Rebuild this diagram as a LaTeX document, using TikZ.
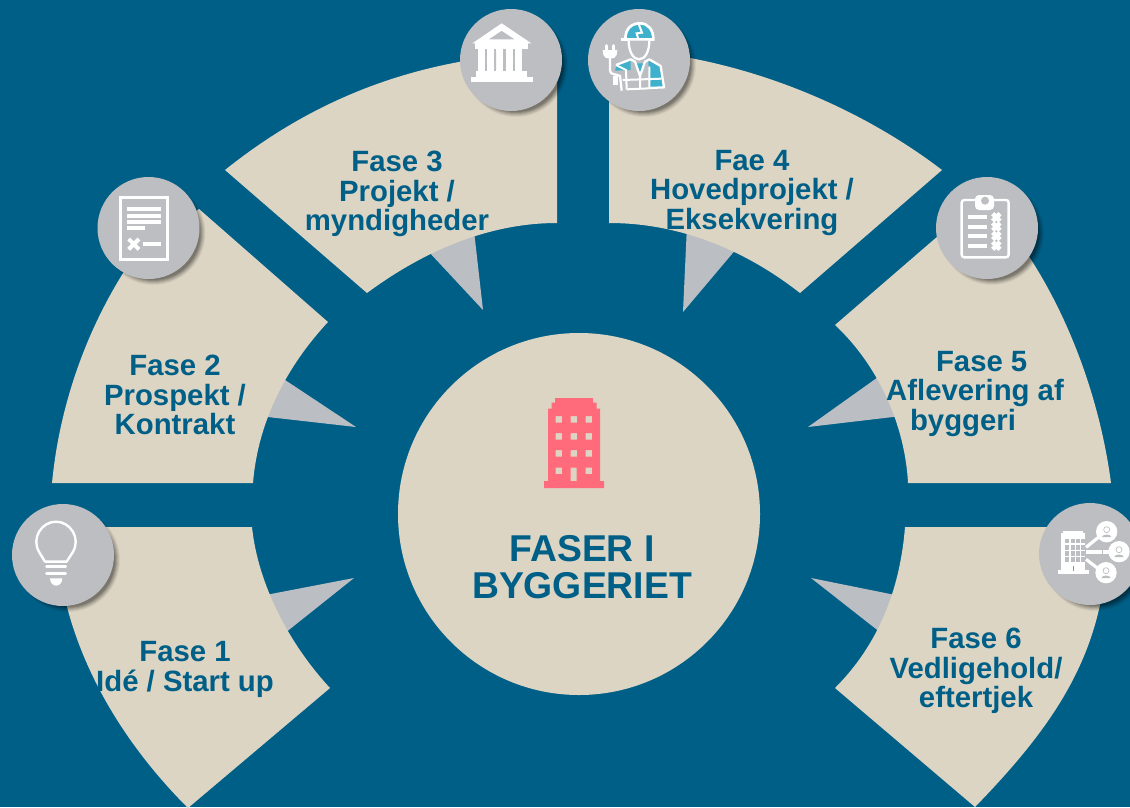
\documentclass[tikz,border=0pt]{standalone}
\usepackage{fontspec}
\setmainfont{Liberation Sans}
\definecolor{bgblue}{HTML}{005F87}
\definecolor{beige}{HTML}{DDD5C4}
\definecolor{callgray}{HTML}{BBBEC2}
\definecolor{roundgray}{HTML}{BDBEC2}
\definecolor{towerred}{HTML}{FF6B7A}
\definecolor{teal2}{HTML}{3FB1CC}
\tikzset{
  seg/.style={fill=beige,draw=none},
  call/.style={fill=callgray,draw=none},
  label/.style={text=bgblue,font=\bfseries\fontsize{22}{22.3}\selectfont,align=center,inner sep=0pt},
  roundbg/.style={circle,fill=roundgray,draw=none,minimum size=76.5pt,inner sep=0pt},
  wl/.style={draw=white,line width=1.8pt},
  zoomed/.style={x=.25pt,y=-.25pt},
}
\newcommand{\roundicon}[3]{%
  \foreach \r/\o in {52/.05,51/.07,50/.08,49/.10,48/.12,47/.12}{
    \fill[black,opacity=\o] (#2+5,#3+5) circle[radius=\r*0.75pt];
  }
  \node[roundbg] (#1) at (#2,#3) {};
}
\begin{document}
\begin{tikzpicture}[x=.75pt,y=-.75pt]
\useasboundingbox (0,0) rectangle (1130,807);
\clip (0,0) rectangle (1130,807);
\fill[bgblue] (0,0) rectangle (1130,807);

% callouts
\fill[call] (354,578) -- (250,598) -- (270,645) -- cycle;
\fill[call] (356,427) -- (270,370) -- (250,415) -- cycle;
\fill[call] (483,310) -- (415,237) -- (473,222) -- cycle;
\fill[call] (683,312) -- (687,225) -- (748,235) -- cycle;
\fill[call] (808,427) -- (895,365) -- (910,415) -- cycle;
\fill[call] (811,578) -- (915,599) -- (890,640) -- cycle;

% segments
\fill[seg] (252,527) .. controls (258,585) and (290,645) .. (330,688) -- (188,808)
  .. controls (125,745) and (80,670) .. (63,590) -- (80,527) -- cycle;
\fill[seg] (253,483) .. controls (258,420) and (288,365) .. (328,322) -- (199,209) -- (135,255)
  .. controls (90,320) and (60,400) .. (52,483) -- cycle;
\fill[seg] (557,223) .. controls (490,223) and (425,250) .. (367,293) -- (225,170)
  .. controls (300,110) and (380,75) .. (470,60) -- (557,52) -- cycle;
\fill[seg] (609,223) .. controls (680,223) and (745,250) .. (800,293) -- (942,170)
  .. controls (870,115) and (780,75) .. (690,58) -- (609,50) -- cycle;
\fill[seg] (835,325) .. controls (878,365) and (905,425) .. (908,483) -- (1111,483)
  .. controls (1100,400) and (1070,320) .. (1030,258) -- (1020,245) -- (960,217) -- cycle;
\fill[seg] (905,527) .. controls (900,590) and (878,645) .. (835,688) -- (975,807)
  .. controls (1040,740) and (1085,680) .. (1101,600) -- (1090,527) -- cycle;

% hub
\node[circle,fill=beige,minimum size=271.5pt,inner sep=0pt] (hub) at (579,514) {};

% tower
\fill[towerred,even odd rule] (555,398) -- (593,398) -- (593,402.5) -- (596.5,402.5) -- (596.5,408.5) -- (600,408.5)
  -- (600,481) -- (604,481) -- (604,488) -- (544,488) -- (544,481) -- (548,481) -- (548,408.5)
  -- (551.5,408.5) -- (551.5,402.5) -- (555,402.5) -- cycle
  (555.5,416) rectangle ++(6.5,6.5) (570.5,416) rectangle ++(6.5,6.5) (585.5,416) rectangle ++(6.5,6.5)
  (555.5,433) rectangle ++(6.5,6.5) (570.5,433) rectangle ++(6.5,6.5) (585.5,433) rectangle ++(6.5,6.5)
  (555.5,450) rectangle ++(6.5,6.5) (570.5,450) rectangle ++(6.5,6.5) (585.5,450) rectangle ++(6.5,6.5)
  (555.5,467.5) rectangle ++(6.5,6.5) (570.7,467.5) rectangle (576.7,481) (585.5,467.5) rectangle ++(6.5,6.5);

% labels
\node[label] (t1) at (185,669.5) {Fase 1\\Idé / Start up};
\node[label] (t2) at (175,395) {Fase 2\\Prospekt /\\Kontrakt};
\node[label] (t3) at (397,194) {Fase 3\\Projekt /\\myndigheder};
\node[label] (t4) at (752,193) {Fae 4\\Hovedprojekt /\\Eksekvering};
\node[label] (t5) at (975,394) {\hspace*{10pt}Fase 5\\Aflevering af\\\hspace*{-18pt}byggeri};
\node[label] (t6) at (976,671) {Fase 6\\Vedligehold/\\eftertjek};
\node[label,font=\bfseries\fontsize{28}{27.5}\selectfont] (tc) at (582,567) {FASER I\\BYGGERIET};

% round icon backgrounds
\roundicon{c1}{63}{555}
\roundicon{c2}{148.5}{228}
\roundicon{c3}{511}{60}
\roundicon{c4}{639}{60}
\roundicon{c5}{987}{228}
\roundicon{c6}{1090}{554}

% bulb
\begin{scope}[shift={(0,495)},zoomed]
  \draw[wl,line join=round] (135,200) -- (118,172) .. controls (92,130) and (125,80) .. (168,80)
    .. controls (211,80) and (244,130) .. (218,172) -- (200,200) -- cycle;
  \draw[wl,line width=2.2pt,line cap=round] (140,214) -- (197,214) (140,236) -- (197,236);
  \fill[white] (150,250) -- (187,250) arc[start angle=0,end angle=-180,x radius=18.5,y radius=-22] -- cycle;
\end{scope}

% document
\begin{scope}[shift={(80,170)},zoomed]
  \draw[wl,line width=2.4pt] (122,82) rectangle (262,268);
  \draw[white,line width=2.9pt] (140,118) -- (243,118) (140,137) -- (243,137) (140,156) -- (243,156) (140,175) -- (196,175)
    (188,222) -- (243,222);
  \draw[white,line width=3pt] (146,207) -- (177,238) (177,207) -- (146,238);
\end{scope}

% bank
\begin{scope}[shift={(440,0)},zoomed]
  \fill[white,even odd rule] (185,70) -- (274,130) -- (97,130) -- cycle (185,92) -- (146,118) -- (224,118) -- cycle;
  \fill[white] (105,130) rectangle (265,148);
  \foreach \cx in {122,150,178,206,234}{\fill[white] (\cx-9,148) rectangle (\cx+12,215);}
  \fill[roundgray] (137,155) rectangle (140,208) (165,155) rectangle (168,208) (193,155) rectangle (196,208) (221,155) rectangle (224,208);
  \fill[white] (108,212) rectangle (262,230);
  \fill[white] (92,230) rectangle (278,247);
\end{scope}

% worker
\begin{scope}[shift={(440,0)},zoomed]
  \fill[teal2] (530,195) -- (572,180) -- (572,210) -- (525,212) -- cycle;
  \fill[teal2] (625,182) -- (662,200) -- (672,260) -- (628,262) -- cycle;
  \fill[teal2] (583,190) -- (617,190) -- (600,222) -- cycle;
  \draw[wl,line width=1.7pt,line join=round] (528,195) -- (572,178) -- (585,185) -- (600,228) -- (615,185) -- (628,178) -- (662,198) -- (672,262) -- (628,264);
  \draw[wl,line width=1.5pt] (560,268) -- (558,210) -- (528,195) (628,265) -- (628,200) (600,228) -- (600,268)
     (548,240) -- (665,236) (560,268) -- (628,265);
  \fill[teal2,draw=white,line width=2pt] (556,118) .. controls (556,85) and (575,70) .. (600,70) .. controls (625,70) and (640,90) .. (640,118) -- cycle;
  \draw[white,line width=1.5pt] (596,72) -- (606,98) -- (590,100) -- (596,122);
  \draw[white,line width=2.2pt] (544,118) -- (642,118);
  \fill[roundgray] (566,122) -- (628,122) .. controls (628,155) and (615,178) .. (597,178) .. controls (580,178) and (566,155) .. (566,122) -- cycle;
  \draw[white,line width=1.7pt] (566,122) .. controls (566,155) and (580,178) .. (597,178) .. controls (615,178) and (628,155) .. (628,122);
  \fill[white] (488,150) -- (532,150) -- (530,165) .. controls (527,180) and (493,180) .. (490,165) -- cycle;
  \draw[white,line width=2.4pt,line cap=round] (499,137) -- (499,150) (521,137) -- (521,150);
  \draw[white,line width=1.7pt] (510,175) -- (510,212) .. controls (510,225) and (530,222) .. (540,228) -- (545,272);
  \fill[white] (518,228) rectangle (534,256);
\end{scope}

% clipboard
\begin{scope}[shift={(920,170)},zoomed]
  \draw[wl,rounded corners=2pt] (125,90) rectangle (266,262);
  \fill[white,rounded corners=3pt] (165,75) rectangle (222,120);
  \fill[roundgray] (195,92) circle[radius=12];
  \draw[white,line width=3pt] (145,142) -- (200,142) (145,170) -- (200,170) (145,198) -- (200,198) (145,227) -- (200,227);
  \foreach \yy in {142,170,198,227}{
    \draw[white,line width=3.4pt] (218,\yy-11) -- (240,\yy+11) (240,\yy-11) -- (218,\yy+11);
  }
\end{scope}

% building with people
\begin{scope}[shift={(1020,490)},zoomed]
  \fill[white] (130,122) rectangle (190,132);
  \fill[white] (122,130) rectangle (196,242);
  \fill[white] (114,240) rectangle (208,252);
  \foreach \cx in {135,152,169,182}{\foreach \cy in {146,166,184,202}{
    \fill[roundgray] (\cx,\cy) rectangle ++(12,14);}}
  \fill[teal2] (159,228) rectangle (162,244);
  \draw[white,line width=2.4pt] (198,172) -- (240,138) (198,208) -- (240,240);
  \draw[white,line width=2.4pt,dash pattern=on 12pt off 1pt] (198,186) -- (272,186);
  \foreach \cx/\cy in {260/125,297/185,258/248}{
    \fill[white] (\cx,\cy) circle[radius=32];
    \draw[roundgray,line width=.5pt] (\cx,\cy-6) circle[radius=9];
    \fill[roundgray] (\cx-14,\cy+16) .. controls (\cx-12,\cy+6) and (\cx+12,\cy+6) .. (\cx+14,\cy+16) -- cycle;
  }
\end{scope}
\end{tikzpicture}
\end{document}
